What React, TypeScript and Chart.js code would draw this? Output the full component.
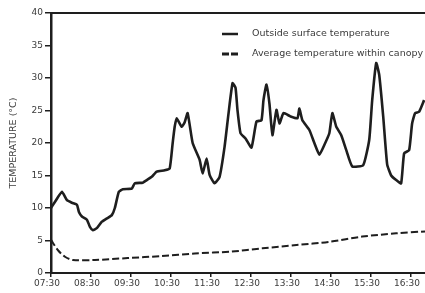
import React, { useEffect, useRef } from "react";
import { Chart, registerables } from "chart.js";

Chart.register(...registerables);

// Outside surface temperature (solid line): time in hours, value in °C
const outsideTime = [
  7.5, 7.625, 7.774, 7.899, 8.024, 8.148, 8.198, 8.273, 8.398, 8.473, 8.547, 8.647,
  8.772, 8.897, 9.021, 9.096, 9.196, 9.296, 9.52, 9.595, 9.794, 9.894, 10.019, 10.143,
  10.343, 10.468, 10.542, 10.592, 10.642, 10.767, 10.842, 10.916, 11.041, 11.216, 11.291,
  11.39, 11.465, 11.59, 11.715, 11.839, 11.939, 12.039, 12.113, 12.163, 12.238, 12.363,
  12.512, 12.637, 12.762, 12.812, 12.887, 12.962, 13.036, 13.136, 13.211, 13.311, 13.485,
  13.66, 13.71, 13.784, 13.959, 14.084, 14.209, 14.333, 14.458, 14.533, 14.632, 14.757,
  14.882, 15.031, 15.306, 15.456, 15.53, 15.63, 15.705, 15.805, 15.904, 16.004, 16.129,
  16.253, 16.328, 16.453, 16.528, 16.603, 16.703, 16.828,
];
const outsideTemp = [
  10.0, 11.2, 12.5, 11.2, 10.8, 10.5, 9.4, 8.7, 8.2, 7.1, 6.6, 6.9,
  7.9, 8.4, 8.9, 10.0, 12.5, 12.9, 13.0, 13.8, 13.9, 14.3, 14.8, 15.6,
  15.8, 16.1, 20.0, 22.5, 23.8, 22.5, 23.2, 24.6, 20.0, 17.4, 15.3,
  17.6, 15.1, 13.8, 14.8, 19.4, 24.6, 29.2, 28.5, 25.0, 21.5, 20.7,
  19.3, 23.3, 23.5, 26.6, 29.0, 26.0, 21.2, 25.1, 23.0, 24.6, 24.1,
  23.8, 25.3, 23.5, 22.0, 20.0, 18.2, 19.7, 21.5, 24.6, 22.5, 21.2,
  18.9, 16.4, 16.6, 20.5, 26.6, 32.3, 30.5, 24.1, 16.7, 15.0, 14.3,
  13.8, 18.4, 18.9, 23.0, 24.6, 24.8, 26.6,
];

// Average temperature within canopy (dashed line)
const canopyTime = [
  7.5, 7.675, 7.849, 8.049, 8.597, 9.42, 10.268, 11.091, 12.014, 12.787, 13.635,
  14.458, 15.28, 16.129, 16.85,
];
const canopyTemp = [
  5.1, 3.5, 2.5, 2.0, 2.0, 2.3, 2.6, 3.0, 3.3, 3.8, 4.3,
  4.8, 5.6, 6.1, 6.4,
];

const tickHours = [7.5, 8.5, 9.5, 10.5, 11.5, 12.5, 13.5, 14.5, 15.5, 16.5];
const tickLabels = [
  "07:30", "08:30", "09:30", "10:30", "11:30",
  "12:30", "13:30", "14:30", "15:30", "16:30",
];

const seriesNames = ["Outside surface temperature", "Average temperature within canopy"];
const yTitle = "TEMPERATURE (°C)";

const INK = "#1e1e1e";
const TEXT = "#3a3a3a";
const FONT = "'DejaVu Sans', sans-serif";

const decorPlugin = {
  id: "decor",
  afterDraw(chart: any) {
    const ctx = chart.ctx;
    const { left, right, top } = chart.chartArea;
    ctx.save();
    // top frame line
    ctx.strokeStyle = INK;
    ctx.lineWidth = 2;
    ctx.beginPath();
    ctx.moveTo(left, top);
    ctx.lineTo(right, top);
    ctx.stroke();
    // legend
    ctx.lineWidth = 2.5;
    ctx.beginPath();
    ctx.moveTo(222, 34);
    ctx.lineTo(238, 34);
    ctx.stroke();
    ctx.setLineDash([7, 2]);
    ctx.lineWidth = 3;
    ctx.beginPath();
    ctx.moveTo(222, 54);
    ctx.lineTo(238, 54);
    ctx.stroke();
    ctx.setLineDash([]);
    ctx.fillStyle = TEXT;
    ctx.font = `9.5px ${FONT}`;
    ctx.textBaseline = "middle";
    ctx.textAlign = "left";
    ctx.fillText(seriesNames[0], 252, 34);
    ctx.fillText(seriesNames[1], 252, 54);
    ctx.restore();
  },
};

export default function App() {
  const ref = useRef<HTMLCanvasElement>(null);
  useEffect(() => {
    document.body.style.margin = "0";
    const chart = new Chart(ref.current!, {
      type: "line",
      data: {
        datasets: [
          {
            label: seriesNames[0],
            data: outsideTime.map((t, i) => ({ x: t, y: outsideTemp[i] })),
            borderColor: INK,
            borderWidth: 2.6,
            pointRadius: 0,
            tension: 0.15,
            fill: false,
          },
          {
            label: seriesNames[1],
            data: canopyTime.map((t, i) => ({ x: t, y: canopyTemp[i] })),
            borderColor: INK,
            borderWidth: 2,
            borderDash: [7, 3],
            pointRadius: 0,
            tension: 0.3,
            fill: false,
          },
        ],
      },
      plugins: [decorPlugin],
      options: {
        animation: false,
        responsive: true,
        maintainAspectRatio: false,
        layout: { padding: { top: 13, left: 0, right: 0, bottom: 0 } },
        plugins: { legend: { display: false }, tooltip: { enabled: false } },
        scales: {
          x: {
            type: "linear",
            min: 7.5,
            max: 16.85,
            afterBuildTicks: (scale: any) => {
              scale.ticks = tickHours.map((v) => ({ value: v }));
            },
            afterFit: (scale: any) => {
              scale.height = 20;
            },
            grid: {
              display: true,
              drawOnChartArea: false,
              drawTicks: true,
              tickLength: 4,
              color: INK,
              lineWidth: 1.5,
            },
            border: { display: true, color: INK, width: 2 },
            ticks: {
              autoSkip: false,
              maxRotation: 0,
              padding: 1,
              labelOffset: -4,
              color: TEXT,
              font: { family: FONT, size: 9 },
              callback: (v: any) => {
                const i = tickHours.indexOf(Number(v));
                return i >= 0 ? tickLabels[i] : "";
              },
            },
          },
          y: {
            min: 0,
            max: 40,
            afterFit: (scale: any) => {
              scale.width = 51;
            },
            grid: {
              display: true,
              drawOnChartArea: false,
              drawTicks: true,
              tickLength: 6,
              color: INK,
              lineWidth: 1.5,
            },
            border: { display: true, color: INK, width: 2.5 },
            ticks: {
              stepSize: 5,
              padding: 2,
              color: TEXT,
              font: { family: FONT, size: 9 },
            },
            title: {
              display: true,
              text: yTitle,
              color: TEXT,
              font: { family: FONT, size: 9.5 },
              padding: { top: 8, bottom: 0 },
            },
          },
        },
      },
    });
    return () => chart.destroy();
  }, []);
  return (
    <div style={{ position: "absolute", left: 0, top: 0, width: 425, height: 293, background: "#fff" }}>
      <canvas ref={ref} />
    </div>
  );
}
